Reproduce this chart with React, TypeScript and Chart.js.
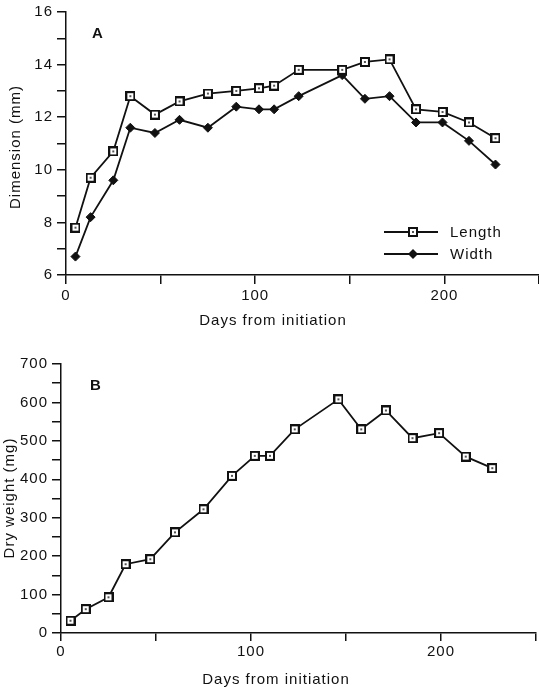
import React, { useEffect, useRef } from 'react';
import { Chart, registerables } from 'chart.js';

Chart.register(...registerables);

// ---- data ----
const days = [5, 13, 25, 34, 47, 60, 75, 90, 102, 110, 123, 146, 158, 171, 185, 199, 213, 227];
const lengthMm = [7.8, 9.7, 10.7, 12.8, 12.1, 12.6, 12.9, 13.0, 13.1, 13.2, 13.8, 13.8, 14.1, 14.2, 12.3, 12.2, 11.8, 11.2];
const widthMm = [6.7, 8.2, 9.6, 11.6, 11.4, 11.9, 11.6, 12.4, 12.3, 12.3, 12.8, 13.6, 12.7, 12.8, 11.8, 11.8, 11.1, 10.2];
const dryWeightMg = [32, 62, 93, 179, 192, 262, 322, 409, 461, 461, 530, 608, 530, 579, 507, 520, 459, 429];

const seriesNames = ['Length', 'Width'];
const xTitle = 'Days from initiation';
const yTitleA = 'Dimension (mm)';
const yTitleB = 'Dry weight (mg)';
const panelA = 'A';
const panelB = 'B';

const FONT = '"Liberation Sans", Arial, Helvetica, sans-serif';
const INK = '#111';

function makeSquare(): HTMLCanvasElement {
  const c = document.createElement('canvas');
  c.width = 10;
  c.height = 10;
  const g = c.getContext('2d')!;
  g.fillStyle = INK;
  g.fillRect(0, 0, 10, 10);
  g.fillStyle = '#fff';
  g.fillRect(2, 2, 6, 6);
  g.fillStyle = '#555';
  g.fillRect(4, 4, 2, 2);
  return c;
}

const spacingPlugin = {
  id: 'spacing',
  beforeLayout(chart: any) {
    chart.ctx.letterSpacing = '1px';
  },
  beforeDraw(chart: any) {
    chart.ctx.letterSpacing = '1px';
  },
};

type TextCfg = {
  panel: string;
  panelX: number;
  panelY: number;
  xt: string;
  xtX: number;
  xtY: number;
  yt: string;
  ytX: number;
  ytY: number;
  legend?: { sq: HTMLCanvasElement } | null;
};

function textPlugin(cfg: TextCfg) {
  return {
    id: 'texts',
    afterDraw(chart: any) {
      const ctx: CanvasRenderingContext2D = chart.ctx;
      ctx.save();
      (ctx as any).letterSpacing = '1px';
      ctx.fillStyle = INK;
      // panel label
      ctx.font = `bold 15px ${FONT}`;
      ctx.textAlign = 'center';
      ctx.textBaseline = 'middle';
      ctx.fillText(cfg.panel, cfg.panelX, cfg.panelY);
      // x title
      ctx.font = `15px ${FONT}`;
      ctx.fillText(cfg.xt, cfg.xtX, cfg.xtY);
      // y title
      ctx.save();
      ctx.translate(cfg.ytX, cfg.ytY);
      ctx.rotate(-Math.PI / 2);
      ctx.fillText(cfg.yt, 0, 0);
      ctx.restore();
      // legend
      if (cfg.legend) {
        const rows = [232, 254];
        ctx.strokeStyle = INK;
        ctx.lineWidth = 1.8;
        rows.forEach((ry, i) => {
          ctx.beginPath();
          ctx.moveTo(384, ry);
          ctx.lineTo(438, ry);
          ctx.stroke();
          if (i === 0) {
            ctx.drawImage(cfg.legend!.sq, 413 - 5, ry - 5);
          } else {
            ctx.beginPath();
            ctx.moveTo(413 - 5, ry);
            ctx.lineTo(413, ry - 5);
            ctx.lineTo(413 + 5, ry);
            ctx.lineTo(413, ry + 5);
            ctx.closePath();
            ctx.fill();
          }
          ctx.textAlign = 'left';
          ctx.fillText(seriesNames[i], 450, ry + 1);
        });
      }
      ctx.restore();
    },
  };
}

function axisCommon(tickLen: number) {
  return {
    border: { display: true, color: INK, width: 1.5 },
    grid: {
      display: true,
      drawOnChartArea: false,
      drawTicks: true,
      tickLength: tickLen,
      color: INK,
      lineWidth: 1.5,
    },
  };
}

export default function App() {
  const refA = useRef<HTMLCanvasElement>(null);
  const refB = useRef<HTMLCanvasElement>(null);

  useEffect(() => {
    const sq = makeSquare();
    const tickFont = { family: FONT, size: 15 };

    const chartA = new Chart(refA.current!, {
      type: 'line',
      data: {
        datasets: [
          {
            label: seriesNames[0],
            data: days.map((d, i) => ({ x: d, y: lengthMm[i] })),
            borderColor: INK,
            borderWidth: 1.8,
            pointStyle: sq as any,
            pointRadius: 5,
            tension: 0,
          },
          {
            label: seriesNames[1],
            data: days.map((d, i) => ({ x: d, y: widthMm[i] })),
            borderColor: INK,
            backgroundColor: INK,
            borderWidth: 1.8,
            pointStyle: 'rectRot',
            pointRadius: 4.5,
            pointBorderWidth: 1,
            pointBackgroundColor: INK,
            pointBorderColor: INK,
            tension: 0,
          },
        ],
      },
      options: {
        responsive: false,
        animation: false,
        events: [],
        layout: { autoPadding: false, padding: { top: 12, left: 0, right: 0, bottom: 0 } },
        plugins: { legend: { display: false }, tooltip: { enabled: false } },
        scales: {
          x: {
            type: 'linear',
            min: 0,
            max: 250,
            afterFit: (s: any) => {
              s.height = 65;
              s.paddingLeft = 0;
              s.paddingRight = 0;
            },
            ...axisCommon(9),
            ticks: {
              stepSize: 50,
              autoSkip: false,
              maxRotation: 0,
              padding: 3,
              color: INK,
              font: tickFont,
              callback: (v: any) => (Number(v) % 100 === 0 ? String(v) : ''),
            },
          },
          y: {
            type: 'linear',
            min: 6,
            max: 16,
            afterFit: (s: any) => {
              s.width = 66;
              s.paddingTop = 0;
              s.paddingBottom = 0;
            },
            ...axisCommon(9),
            ticks: {
              stepSize: 1,
              autoSkip: false,
              padding: 4,
              color: INK,
              font: tickFont,
              callback: (v: any) => (Number(v) % 2 === 0 ? String(v) : ''),
            },
          },
        },
      },
      plugins: [
        spacingPlugin,
        textPlugin({
          panel: panelA,
          panelX: 98,
          panelY: 34,
          xt: xTitle,
          xtX: 273,
          xtY: 321,
          yt: yTitleA,
          ytX: 15.5,
          ytY: 147,
          legend: { sq },
        }),
      ],
    } as any);

    const chartB = new Chart(refB.current!, {
      type: 'line',
      data: {
        datasets: [
          {
            label: 'Dry weight',
            data: days.map((d, i) => ({ x: d, y: dryWeightMg[i] })),
            borderColor: INK,
            borderWidth: 1.8,
            pointStyle: sq as any,
            pointRadius: 5,
            tension: 0,
          },
        ],
      },
      options: {
        responsive: false,
        animation: false,
        events: [],
        layout: { autoPadding: false, padding: { top: 24, left: 0, right: 3, bottom: 0 } },
        plugins: { legend: { display: false }, tooltip: { enabled: false } },
        scales: {
          x: {
            type: 'linear',
            min: 0,
            max: 250,
            afterFit: (s: any) => {
              s.height = 54;
              s.paddingLeft = 0;
              s.paddingRight = 0;
            },
            ...axisCommon(8),
            ticks: {
              stepSize: 50,
              autoSkip: false,
              maxRotation: 0,
              padding: 2,
              color: INK,
              font: tickFont,
              callback: (v: any) => (Number(v) % 100 === 0 ? String(v) : ''),
            },
          },
          y: {
            type: 'linear',
            min: 0,
            max: 700,
            afterFit: (s: any) => {
              s.width = 61;
              s.paddingTop = 0;
              s.paddingBottom = 0;
            },
            ...axisCommon(9),
            ticks: {
              stepSize: 50,
              autoSkip: false,
              padding: 4,
              color: INK,
              font: tickFont,
              callback: (v: any) => (Number(v) % 100 === 0 ? String(v) : ''),
            },
          },
        },
      },
      plugins: [
        spacingPlugin,
        textPlugin({
          panel: panelB,
          panelX: 96,
          panelY: 46,
          xt: xTitle,
          xtX: 276,
          xtY: 340,
          yt: yTitleB,
          ytX: 10,
          ytY: 158,
          legend: null,
        }),
      ],
    } as any);

    return () => {
      chartA.destroy();
      chartB.destroy();
    };
  }, []);

  return (
    <div style={{ position: 'absolute', left: 0, top: 0, width: 539, height: 687, background: '#fff' }}>
      <canvas
        ref={refA}
        width={539}
        height={340}
        style={{ position: 'absolute', left: 0, top: 0, width: 539, height: 340 }}
      />
      <canvas
        ref={refB}
        width={539}
        height={347}
        style={{ position: 'absolute', left: 0, top: 340, width: 539, height: 347 }}
      />
    </div>
  );
}
